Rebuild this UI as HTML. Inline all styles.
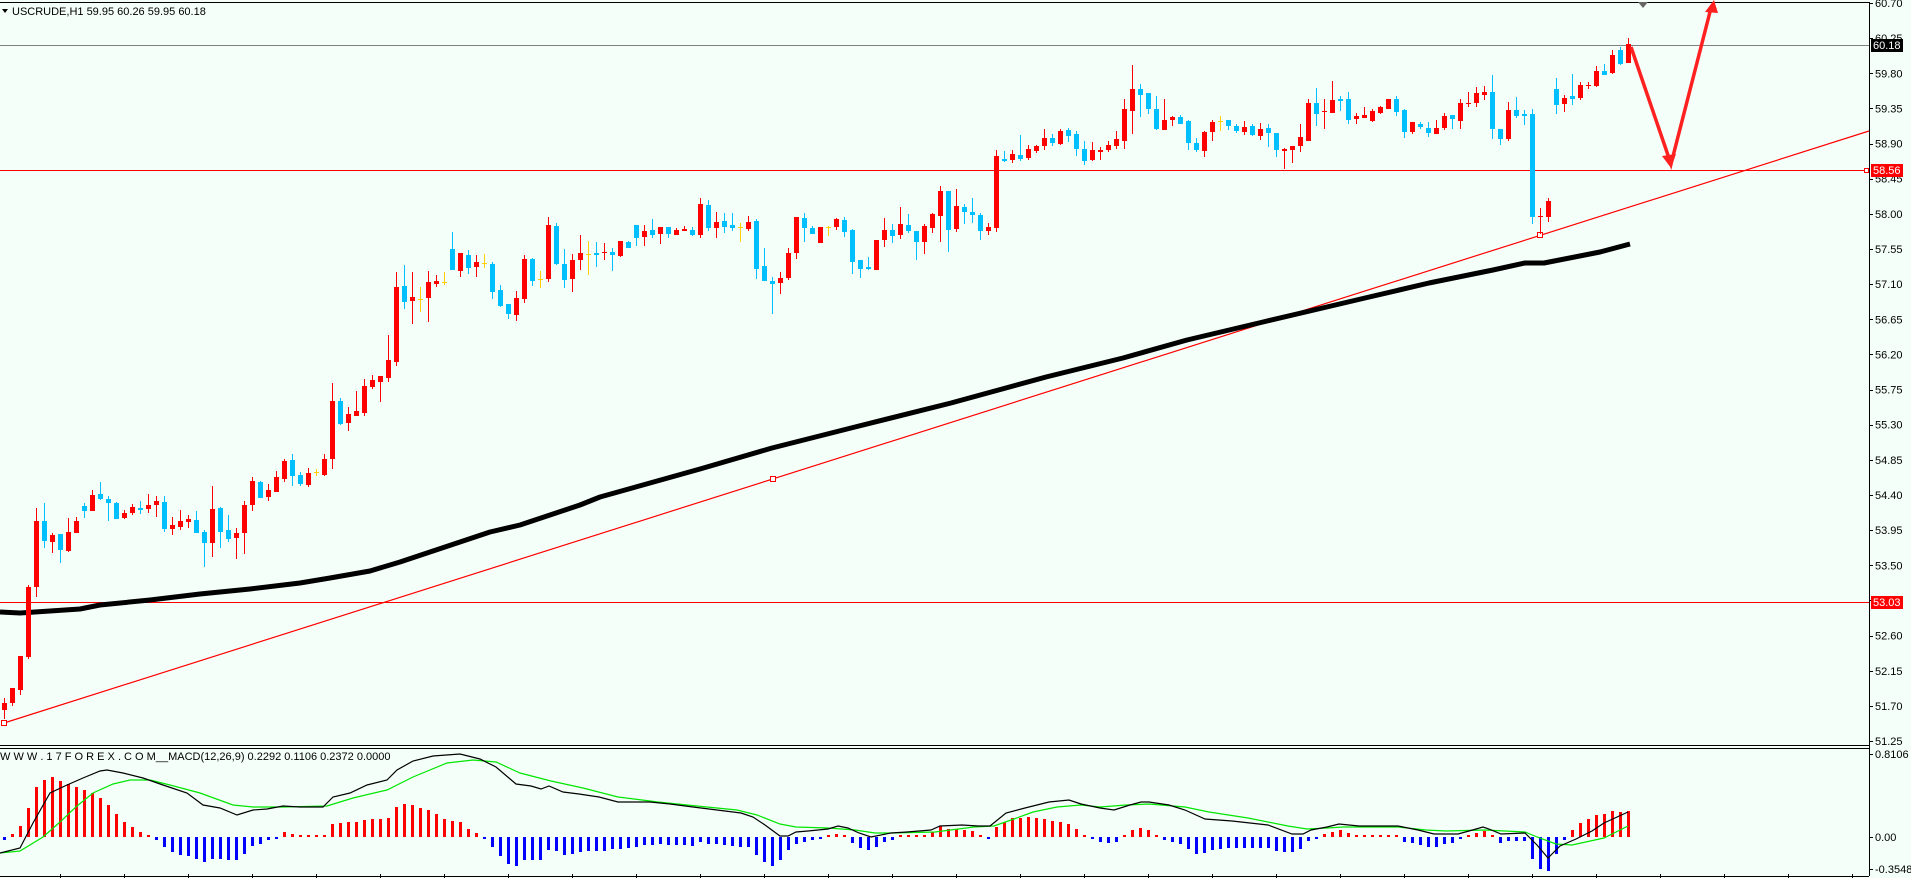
<!DOCTYPE html>
<html><head><meta charset="utf-8"><style>
html,body{margin:0;padding:0;background:#f5fffa;}
svg{display:block;}
text{font-family:"Liberation Sans","DejaVu Sans",sans-serif;font-size:11px;}
</style></head><body>
<svg id="c" width="1911" height="878" xmlns="http://www.w3.org/2000/svg">
<rect x="0" y="0" width="1911" height="878" fill="#f5fffa"/>
<line x1="0" y1="2.5" x2="1869" y2="2.5" stroke="#000"/>
<line x1="1869.5" y1="2" x2="1869.5" y2="876" stroke="#000"/>
<line x1="0" y1="745.5" x2="1869" y2="745.5" stroke="#000"/>
<line x1="0" y1="748.5" x2="1869" y2="748.5" stroke="#000"/>
<line x1="0" y1="876.5" x2="1869" y2="876.5" stroke="#000"/>
<polygon points="1638,2 1648,2 1643,8" fill="#666"/>
<polygon points="2,9 8,9 5,13" fill="#000"/>
<text x="12" y="15">USCRUDE,H1  59.95 60.26 59.95 60.18</text>
<text x="0" y="760" style="font-size:11px">W W W . 1 7 F O R E X . C O M__MACD(12,26,9) 0.2292 0.1106 0.2372 0.0000</text>
<g id="g"></g>
</svg>
<script>
var NS="http://www.w3.org/2000/svg",g=document.getElementById("g");
function el(t,a){var e=document.createElementNS(NS,t);for(var k in a)e.setAttribute(k,a[k]);g.appendChild(e);return e;}
function yp(p){return 3+(60.70-p)*78.1;}
el("line",{x1:0,y1:45.5,x2:1869,y2:45.5,stroke:"#808080"});
el("line",{x1:0,y1:170.5,x2:1866,y2:170.5,stroke:"#f00"});
el("line",{x1:0,y1:602.5,x2:1869,y2:602.5,stroke:"#f00"});
el("rect",{x:1864.5,y:168.5,width:4,height:4,fill:"#fff",stroke:"#f00"});
el("line",{x1:4,y1:723,x2:1869,y2:131,stroke:"#f00","stroke-width":1.2});
[[4,723],[773,479],[1540,235]].forEach(function(p){el("rect",{x:p[0]-2.5,y:p[1]-2.5,width:5,height:5,fill:"#fff",stroke:"#f00"});});
var ma=[[0,612],[20,613],[50,611],[80,609],[100,605],[150,600],[200,594],[250,589],[300,583],[330,578],[370,571],[400,562],[430,552],[460,542],[490,532],[520,525],[550,515],[580,505],[600,497],[650,483],[700,469],[772,448],[855,427],[951,403],[1046,377],[1123,358],[1187,340],[1263,322],[1314,310],[1365,298],[1429,283],[1493,270],[1525,263],[1544,263],[1600,252],[1630,244]];
el("polyline",{points:ma.map(function(p){return p.join(",")}).join(" "),fill:"none",stroke:"#000","stroke-width":5,"stroke-linejoin":"round"});
var C=[[710,703,698,719],[703,688,688,706],[690,656,656,695],[657,587,585,659],[587,521,508,597],[521,541,503,548],[542,535,533,553],[534,550,534,563],[551,532,518,552],[533,521,517,533],[506,511,503,518],[511,495,490,511],[494,499,482,500],[499,503,496,521],[503,519,502,519],[518,513,510,519],[513,507,504,515],[508,510,501,514],[509,505,494,513],[505,501,496,517],[502,529,496,532],[529,525,517,535],[527,521,510,530],[522,519,515,528],[520,533,511,533],[532,543,530,567],[543,509,486,557],[508,532,507,548],[530,539,515,542],[538,533,528,559],[533,505,501,554],[505,481,477,511],[482,498,481,498],[497,490,484,501],[492,477,471,492],[479,461,459,482],[460,476,454,486],[475,484,472,486],[485,473,468,487],[472,472,469,476],[475,459,454,476],[459,401,383,469],[401,424,398,425],[423,414,407,431],[416,411,391,416],[413,386,379,416],[387,380,375,389],[382,376,376,402],[378,360,335,382],[362,287,272,366],[286,302,265,309],[301,297,272,324],[299,299,287,312],[298,282,271,322],[284,281,275,287],[282,282,272,285],[249,270,232,270],[271,253,253,277],[255,268,250,274],[267,262,255,277],[263,263,254,268],[264,292,262,299],[290,306,285,307],[304,314,304,319],[315,298,291,321],[299,259,255,303],[259,281,258,286],[279,279,271,288],[279,225,217,282],[226,264,223,265],[264,280,249,288],[279,260,254,292],[260,253,235,270],[254,254,241,275],[253,255,242,267],[253,252,243,260],[252,255,248,271],[256,241,241,257],[242,248,241,248],[225,238,225,246],[237,231,225,246],[230,235,219,238],[234,227,227,244],[227,234,227,238],[235,230,228,235],[231,229,226,231],[230,235,227,236],[235,204,198,238],[205,228,200,231],[228,222,212,238],[221,227,213,233],[225,228,213,231],[227,227,223,242],[229,222,216,231],[221,269,219,279],[266,281,248,281],[281,284,277,314],[283,278,272,294],[278,253,248,280],[253,217,217,259],[218,228,213,242],[228,234,226,234],[243,227,227,243],[227,227,226,236],[227,219,218,230],[220,232,217,237],[230,262,229,274],[260,269,260,278],[267,269,257,270],[270,240,240,270],[240,230,218,247],[230,236,224,243],[235,224,207,239],[225,231,214,233],[231,242,231,260],[242,226,224,254],[228,214,213,233],[216,191,186,242],[191,230,191,252],[229,206,189,232],[207,212,204,224],[212,215,198,223],[215,231,213,240],[231,227,223,235],[228,156,150,232],[159,161,151,162],[160,154,150,163],[155,159,135,161],[158,149,145,160],[151,146,145,153],[146,138,129,150],[138,143,134,146],[144,131,129,145],[130,136,128,142],[134,149,131,156],[149,161,141,165],[160,150,142,161],[152,150,147,160],[150,145,141,152],[146,139,131,149],[141,109,99,149],[111,89,65,134],[89,95,84,117],[93,109,93,114],[109,129,96,130],[130,120,99,130],[120,117,116,126],[117,124,115,124],[121,143,120,150],[143,150,138,152],[151,132,131,157],[132,122,120,141],[121,121,116,131],[120,126,120,130],[126,131,124,133],[132,127,121,135],[126,135,124,136],[136,129,123,140],[128,133,124,147],[133,150,133,157],[151,149,148,169],[150,146,146,163],[146,137,124,152],[141,103,99,141],[103,114,88,126],[112,111,99,129],[113,100,81,113],[99,101,96,111],[99,120,92,124],[119,116,113,124],[118,115,107,118],[121,111,109,122],[113,107,106,114],[109,99,99,109],[99,112,96,116],[110,132,109,138],[132,122,122,134],[124,127,122,129],[128,133,122,137],[134,128,120,134],[128,116,113,130],[115,119,115,129],[121,103,99,129],[104,103,92,107],[103,93,87,107],[95,92,86,100],[92,129,75,139],[129,139,129,145],[139,110,102,141],[110,116,97,118],[114,116,110,125],[114,217,109,224],[217,216,208,234],[217,201,198,222],[89,105,78,114],[104,98,95,112],[96,99,74,105],[98,85,82,100],[86,85,82,89],[86,71,66,87],[71,75,64,75],[73,55,50,74],[50,64,47,65],[63,44,38,63]];
C.forEach(function(c,i){
 var x=4+8*i,o=c[0],cl=c[1],h=c[2],l=c[3];
 var col=cl<o?"#ff0000":(cl>o?"#00bfff":"#ffd000");
 el("line",{x1:x+0.5,y1:h,x2:x+0.5,y2:l,stroke:col});
 var t=Math.min(o,cl),b=Math.max(o,cl);
 el("rect",{x:x-2,y:t,width:5,height:Math.max(1,b-t),fill:col});
});
el("polyline",{points:"1631,47 1671,164 1711,8",fill:"none",stroke:"#ff2020","stroke-width":3.5,"stroke-linejoin":"miter"});
el("polygon",{points:"1671,168 1662,156 1676,154",fill:"#ff2020"});
el("polygon",{points:"1714,0 1705,12 1718,13",fill:"#ff2020"});
for(var k=0;k<=21;k++){var p=60.70-0.45*k,y=yp(p);
 el("line",{x1:1869,y1:Math.round(y)+0.5,x2:1873,y2:Math.round(y)+0.5,stroke:"#000"});
 var t=el("text",{x:1875,y:y+4});t.textContent=p.toFixed(2);}
function box(y,bg,txt){el("rect",{x:1871,y:y-6,width:32,height:13,fill:bg});var t=el("text",{x:1873,y:y+4,fill:"#fff"});t.textContent=txt;}
box(45,"#000","60.18");box(170,"#ff0000","58.56");box(602,"#ff0000","53.03");
[[754,"0.8106"],[837,"0.00"],[869,"-0.3548"]].forEach(function(a){el("line",{x1:1869,y1:a[0]+0.5,x2:1873,y2:a[0]+0.5,stroke:"#000"});var t=el("text",{x:1875,y:a[0]+4});t.textContent=a[1];});
for(var tx=60;tx<1869;tx+=64)el("line",{x1:tx+0.5,y1:874,x2:tx+0.5,y2:878,stroke:"#000"});
var H=[-3,3,11,29,50,57,60,56,53,50,47,44,39,32,23,15,10,5,1,-3,-10,-15,-18,-19,-22,-25,-22,-22,-23,-23,-17,-9,-7,-3,-1,5,3,2,1,1,1,13,14,15,15,17,18,18,19,30,33,32,29,27,23,18,16,15,8,4,-1,-10,-19,-27,-29,-23,-23,-23,-13,-14,-18,-17,-15,-14,-14,-14,-12,-12,-11,-10,-8,-8,-7,-8,-8,-8,-9,-5,-7,-7,-8,-9,-10,-10,-18,-25,-29,-23,-13,-7,-5,-3,-1,1,3,2,-6,-11,-13,-10,-5,-3,1,1,1,2,5,11,8,8,7,6,1,-2,10,15,19,19,20,19,18,16,15,13,8,1,-2,-5,-6,-5,1,7,9,7,1,-3,-5,-7,-12,-17,-16,-13,-12,-11,-11,-11,-11,-11,-11,-14,-15,-15,-12,-4,-1,3,5,7,4,1,1,1,1,2,1,-5,-6,-8,-10,-10,-7,-6,-2,1,4,6,1,-6,-4,-4,-4,-22,-32,-34,-17,-3,7,14,18,22,23,26,25,26];
H.forEach(function(v,i){var x=4+8*i-1,hh=Math.max(2,Math.abs(v));
 el("rect",{x:x,y:v>0?837-hh:837,width:3,height:hh,fill:v>0?"#ff0000":"#0000ff"});});
var B=[[0,853],[20,848],[33,823],[50,793],[67,785],[83,778],[100,771],[107,770],[123,773],[143,778],[163,785],[187,793],[203,805],[220,808],[237,815],[253,810],[267,809],[283,806],[300,807],[323,807],[333,797],[350,793],[367,785],[387,780],[397,770],[413,761],[433,756],[460,754],[480,759],[496,767],[516,784],[531,786],[541,789],[549,786],[563,792],[579,794],[599,797],[618,802],[650,802],[670,804],[693,807],[717,810],[741,813],[753,817],[765,825],[780,836],[788,836],[796,832],[808,831],[828,829],[838,826],[848,828],[859,833],[871,837],[891,833],[907,832],[931,830],[940,826],[962,825],[978,826],[990,826],[1006,813],[1025,808],[1049,802],[1069,800],[1081,804],[1100,808],[1114,810],[1130,805],[1141,802],[1149,802],[1169,805],[1185,810],[1205,819],[1232,821],[1268,825],[1292,834],[1303,834],[1311,830],[1327,827],[1339,824],[1359,826],[1398,826],[1418,830],[1434,834],[1458,834],[1469,831],[1483,827],[1489,829],[1501,834],[1525,833],[1537,845],[1548,858],[1560,846],[1576,839],[1592,831],[1604,823],[1628,812]];
var G=[[0,853],[20,851],[43,837],[60,822],[77,806],[93,793],[113,784],[130,780],[150,780],[170,785],[200,793],[233,805],[253,807],[283,807],[327,806],[353,798],[387,790],[413,777],[447,763],[473,760],[496,762],[520,773],[551,781],[583,788],[618,797],[658,802],[697,806],[737,810],[757,815],[780,824],[796,827],[828,828],[855,830],[875,833],[891,833],[935,832],[974,827],[994,826],[1014,819],[1033,812],[1057,807],[1081,805],[1100,807],[1126,805],[1149,804],[1185,807],[1209,812],[1248,818],[1288,826],[1307,829],[1327,828],[1343,827],[1398,827],[1426,830],[1446,831],[1485,830],[1525,832],[1537,837],[1556,844],[1572,845],[1604,838],[1628,826]];
el("polyline",{points:G.map(function(p){return p.join(",")}).join(" "),fill:"none",stroke:"#00e600","stroke-width":1.2});
el("polyline",{points:B.map(function(p){return p.join(",")}).join(" "),fill:"none",stroke:"#000","stroke-width":1.2});
</script>
</body></html>
